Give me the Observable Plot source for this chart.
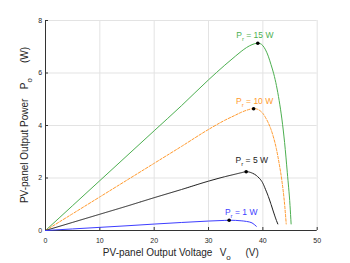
<!DOCTYPE html>
<html><head><meta charset="utf-8">
<script src="https://cdn.jsdelivr.net/npm/d3@7"></script>
<script src="https://cdn.jsdelivr.net/npm/@observablehq/plot@0.6"></script>
<style>
body{margin:0;background:#fff}
svg{font-family:"Liberation Sans",Arial,sans-serif}
</style>
</head><body><div id="chart"></div>
<script>
const xTicks = [0, 10, 20, 30, 40, 50];
const yTicks = [0, 2, 4, 6, 8];
const seriesNames = ["15 W", "10 W", "5 W", "1 W"];

const v15 = [0, 5, 10, 15, 20, 25, 30, 33, 35, 36, 37, 38, 39, 39.5, 40, 40.5, 41, 41.5, 42, 42.5, 43, 43.5, 44, 44.5, 45, 45.2];
const p15 = [0, 0.95, 1.9, 2.85, 3.8, 4.75, 5.74, 6.3, 6.65, 6.82, 6.97, 7.08, 7.135, 7.12, 7.04, 6.88, 6.64, 6.32, 5.97, 5.52, 4.95, 4.25, 3.35, 2.2, 0.95, 0.25];

const v10 = [0, 5, 10, 15, 20, 25, 30, 33, 35, 36, 37, 38, 38.5, 39, 39.5, 40, 40.5, 41, 41.5, 42, 42.5, 43, 43.5, 44, 44.3];
const p10 = [0, 0.64, 1.28, 1.92, 2.56, 3.2, 3.85, 4.2, 4.4, 4.5, 4.58, 4.635, 4.64, 4.62, 4.56, 4.46, 4.3, 4.1, 3.85, 3.52, 3.1, 2.55, 1.9, 1.0, 0.25];

const v5 = [0, 5, 10, 15, 20, 25, 30, 33, 35, 36, 37, 38, 39, 40, 40.5, 41, 41.5, 42, 42.5, 42.75];
const p5 = [0, 0.31, 0.62, 0.93, 1.25, 1.56, 1.88, 2.05, 2.15, 2.2, 2.24, 2.19, 2.06, 1.8, 1.56, 1.3, 1.0, 0.68, 0.38, 0.25];

const v1 = [0, 5, 10, 15, 20, 25, 30, 33, 34, 35, 36, 37, 38, 38.8];
const p1 = [0, 0.06, 0.12, 0.18, 0.245, 0.305, 0.36, 0.385, 0.39, 0.385, 0.37, 0.345, 0.29, 0.16];

const mppV = [39.07, 38.3, 36.93, 33.8];
const mppP = [7.135, 4.64, 2.24, 0.39];

// styles
const colors = ["#4caf50", "#ff9a2e", "#1a1a1a", "#3d3dff"];
const dashes = [null, "2.6,1.6", "1.3,0.8", null];
const labelOffsets = [[-3, -8], [1, -7.5], [5.6, -11], [12, -8]];

const seriesV = [v15, v10, v5, v1];
const seriesP = [p15, p10, p5, p1];

const marks = [
  Plot.gridX(xTicks, {stroke: "#e3e3e3", strokeOpacity: 1}),
  Plot.gridY(yTicks, {stroke: "#e3e3e3", strokeOpacity: 1}),
  Plot.ruleX([0], {stroke: "#333"}),
  Plot.ruleY([0], {stroke: "#333"}),
  Plot.axisX({ticks: xTicks, tickSize: -3, tickPadding: 10.3, fontSize: 7, label: null, stroke: "#333", color: "#262626"}),
  Plot.axisY({ticks: yTicks, tickSize: -3, tickPadding: 6.3, fontSize: 7, label: null, stroke: "#333", color: "#262626"})
];
seriesV.forEach((vs, i) => {
  const rows = vs.map((v, j) => ({v, p: seriesP[i][j]}));
  marks.push(Plot.line(rows, {x: "v", y: "p", stroke: colors[i], strokeWidth: 1, strokeDasharray: dashes[i], curve: "monotone-x"}));
});
marks.push(Plot.dot(mppV.map((v, i) => ({v, p: mppP[i]})), {x: "v", y: "p", r: 1.8, fill: "black", stroke: "none"}));
seriesNames.forEach((n, i) => {
  marks.push(Plot.text([i], {
    x: d => mppV[d], y: d => mppP[d], text: d => `P_r = ${seriesNames[d]}`,
    dx: labelOffsets[i][0], dy: labelOffsets[i][1], fill: colors[i], fontSize: 8.5, textAnchor: "middle"
  }));
});

const svg = Plot.plot({
  width: 350, height: 263,
  marginLeft: 45, marginRight: 33.3, marginTop: 20, marginBottom: 33,
  x: {domain: [0, 50]},
  y: {domain: [0, 8]},
  marks
});
document.getElementById("chart").appendChild(svg);

// subscripts in annotation labels
d3.select(svg).selectAll("text").each(function() {
  const t = this.textContent;
  const m = /^P_r( = .*)$/.exec(t);
  if (!m) return;
  const el = d3.select(this);
  el.text(null);
  el.append("tspan").text("P");
  el.append("tspan").attr("dy", 3).attr("font-size", 6).text("r");
  el.append("tspan").attr("dy", -3).text(m[1]);
});

// axis titles
const xs = svg.scale("x"), ys = svg.scale("y");
const xc = (xs.apply(0) + xs.apply(50)) / 2;
const yc = (ys.apply(0) + ys.apply(8)) / 2;
function title(g, parts) {
  parts.forEach(p => {
    const ts = g.append("tspan").text(p.t);
    if (p.dx) ts.attr("dx", p.dx);
    if (p.sub) ts.attr("dy", 4).attr("font-size", 8);
    if (p.up) ts.attr("dy", -4);
  });
}
const gx = d3.select(svg).append("text")
  .attr("x", xc).attr("y", 256).attr("text-anchor", "middle")
  .attr("font-size", 10).attr("fill", "#262626");
title(gx, [{t: "PV-panel Output Voltage"}, {t: "V", dx: 7.3}, {t: "o", sub: true}, {t: "(V)", dx: 14.7, up: true}]);
const gy = d3.select(svg).append("text")
  .attr("transform", `translate(28,${yc}) rotate(-90)`).attr("text-anchor", "middle")
  .attr("font-size", 10).attr("fill", "#262626");
title(gy, [{t: "PV-panel Output Power"}, {t: "P", dx: 9.4}, {t: "o", sub: true}, {t: "(W)", dx: 15, up: true}]);
</script>
</body></html>
